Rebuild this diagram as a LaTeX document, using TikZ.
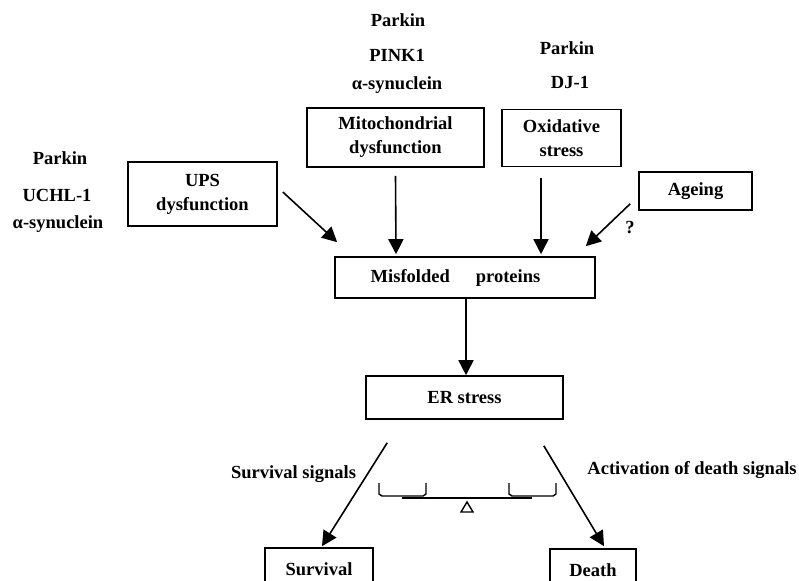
\documentclass[tikz,border=0pt]{standalone}
\usepackage{fontspec}
\setmainfont{Liberation Serif}
\usetikzlibrary{arrows.meta}
\newcommand{\diagfont}{\bfseries\fontsize{18.5}{24}\selectfont}
\tikzset{
  box/.style={draw, line width=1.6pt, align=center, inner sep=0pt, font=\diagfont},
  gene/.style={font=\diagfont, inner sep=1pt},
  arrowline/.style={line width=1.6pt, -{Triangle[length=15pt,width=15pt]}}
}
\begin{document}
\begin{tikzpicture}[x=1pt,y=-1pt]
  \clip (0,0) rectangle (799,580);

  % Boxes of the causes
  \node[box, minimum width=149, minimum height=64] (ups) at (202.5,194) {UPS\\dysfunction};
  \node[box, minimum width=177, minimum height=59] (mito) at (395.5,137.5) {Mitochondrial\\dysfunction};
  \node[box, minimum width=119, minimum height=57] (oxid) at (561.5,138) {Oxidative\\stress};
  \node[box, minimum width=113, minimum height=38] (ageing) at (695.5,191) {Ageing};

  % Genes above and beside the boxes
  \node[gene] (upsgene1) at (60,158) {Parkin};
  \node[gene] (upsgene2) at (57,195) {UCHL-1};
  \node[gene] (upsgene3) at (58,224) {α-synuclein};
  \node[gene] (mitogene1) at (398,20) {Parkin};
  \node[gene] (mitogene2) at (397,55) {PINK1};
  \node[gene] (mitogene3) at (397,85) {α-synuclein};
  \node[gene] (oxidgene1) at (567,48) {Parkin};
  \node[gene] (oxidgene2) at (570,82) {DJ-1};

  % Misfolded proteins and ER stress
  \node[box, minimum width=260, minimum height=41] (misf) at (465,277.5) {Misfolded\hspace{26pt}proteins\hspace*{19pt}};
  \node[box, minimum width=197, minimum height=43] (er) at (464.5,397.5) {ER stress};

  % Outcomes
  \node[box, minimum width=108, minimum height=42] (surv) at (319,569) {Survival};
  \node[box, minimum width=86, minimum height=42] (death) at (593,570) {Death};

  % Arrows into misfolded proteins
  \draw[arrowline] ([xshift=5pt,yshift=2pt]ups.east) -- ([xshift=3pt,yshift=14pt]misf.north west);
  \draw[arrowline] ([yshift=-8pt]mito.south) -- ([xshift=0.5pt,yshift=2pt]mito.south |- misf.north);
  \draw[arrowline] ([xshift=-20.5pt,yshift=-11pt]oxid.south) -- ([xshift=-20.5pt,yshift=2pt]oxid.south |- misf.north);
  \draw[arrowline] ([xshift=-8pt,yshift=7pt]ageing.south west) -- ([xshift=-10pt,yshift=10pt]misf.north east);
  \node[gene] (query) at (630,228) {?};

  % Misfolded proteins to ER stress
  \draw[arrowline] ([xshift=1pt]misf.south) -- ([xshift=1pt]misf.south |- er.north);

  % Survival and death branches
  \draw[arrowline] ([xshift=22pt,yshift=-23pt]er.south west) -- ([xshift=3pt,yshift=1pt]surv.north);
  \draw[arrowline] ([xshift=-20pt,yshift=-26pt]er.south east) -- ([xshift=11pt,yshift=2pt]death.north);
  \node[gene] (survlbl) at (293.5,474) {Survival signals};
  \node[gene] (deathlbl) at (692,470) {Activation of death signals};

  % Balance between the two
  \draw[line width=1.4pt] (379,483) -- (379,494) -- (382,496) -- (423,496) -- (426,494) -- (426,483);
  \draw[line width=1.4pt] (509,483) -- (509,494) -- (512,496) -- (553,496) -- (556,494) -- (556,483);
  \draw[line width=1.4pt] (402,498) -- (532,498);
  \draw[line width=1.4pt] (467,502) -- (473,512) -- (461,512) -- cycle;

\end{tikzpicture}
\end{document}
